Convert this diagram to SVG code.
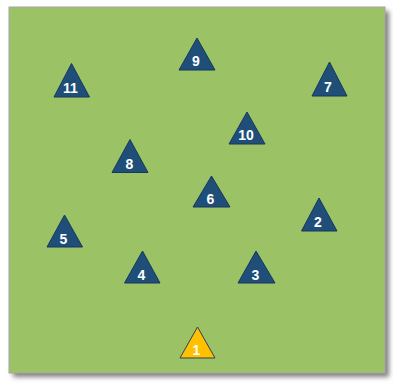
<svg xmlns="http://www.w3.org/2000/svg" width="393" height="383" viewBox="0 0 393 383">
<defs>
<filter id="sh" x="-5%" y="-5%" width="115%" height="115%">
<feGaussianBlur stdDeviation="2.5"/>
</filter>
<style>
.tri{fill:#1f4e79;stroke:#17375e;stroke-width:1}
.gold{fill:#ffc000;stroke:#2f3f5f;stroke-width:1}
.lbl{font-family:"Liberation Sans",Arial,sans-serif;font-weight:bold;font-size:14px;fill:#ffffff;text-anchor:middle}
</style>
</defs>
<rect width="393" height="383" fill="#ffffff"/>
<rect x="13" y="11" width="376" height="366" fill="#7f7f7f" filter="url(#sh)"/>
<rect x="9" y="7" width="376" height="366" fill="#9bc264" stroke="#a6a6a6" stroke-width="1"/>
<g id="connectors"/>
<g id="n9"><polygon class="tri" points="197,38 179,70 215,70"/><text class="lbl" x="196" y="66">9</text></g>
<g id="n11"><polygon class="tri" points="71.5,63.5 54,97 89.5,97"/><text class="lbl" x="70.5" y="93">11</text></g>
<g id="n7"><polygon class="tri" points="329.5,62 312,96 347,96"/><text class="lbl" x="328" y="92">7</text></g>
<g id="n10"><polygon class="tri" points="247,112 229,144 265,144"/><text class="lbl" x="246" y="140">10</text></g>
<g id="n8"><polygon class="tri" points="130,139.5 112,172.5 148,172.5"/><text class="lbl" x="129.5" y="168.5">8</text></g>
<g id="n6"><polygon class="tri" points="211.5,176 193,207 230,207"/><text class="lbl" x="210.5" y="204">6</text></g>
<g id="n2"><polygon class="tri" points="319,198 301.5,231 337,231"/><text class="lbl" x="318" y="227">2</text></g>
<g id="n5"><polygon class="tri" points="64.5,215 47,247 82.5,247"/><text class="lbl" x="63.5" y="244">5</text></g>
<g id="n4"><polygon class="tri" points="142.5,251 124.5,283 160,283"/><text class="lbl" x="141.5" y="279.5">4</text></g>
<g id="n3"><polygon class="tri" points="256,251 238,283 275,283"/><text class="lbl" x="255.5" y="279.5">3</text></g>
<g id="n1"><polygon class="gold" points="197.5,327 180,358 215,358"/><text class="lbl" x="196.5" y="355">1</text></g>
</svg>
